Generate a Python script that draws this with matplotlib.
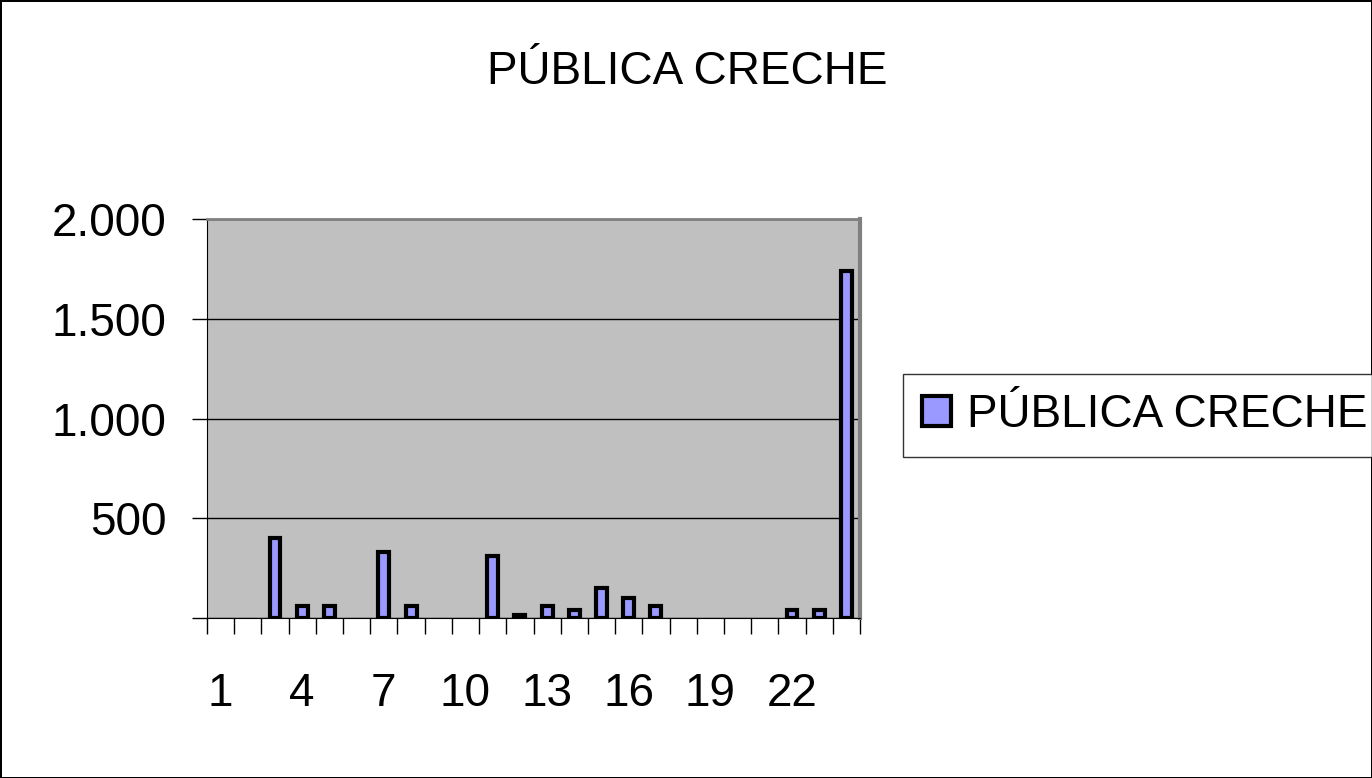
import matplotlib.pyplot as plt
import numpy as np

plt.rcParams['font.family'] = ['Liberation Sans', 'DejaVu Sans']

# dados
categorias = np.arange(1, 25)
valores = [0, 0, 400, 60, 60, 0, 330, 60, 0, 0, 310, 15,
           60, 40, 150, 100, 60, 0, 0, 0, 0, 40, 40, 1740]
rotulos_x = [1, 4, 7, 10, 13, 16, 19, 22]
ticks_y = [0, 500, 1000, 1500, 2000]
rotulos_y = ['', '500', '1.000', '1.500', '2.000']
titulo = 'PÚBLICA CRECHE'

fig = plt.figure(figsize=(13.72, 7.78), dpi=100)
fig.patch.set_edgecolor('black')
fig.patch.set_linewidth(2)

ax = fig.add_axes([207/1372, 1 - 618/778, (860 - 207)/1372, (618 - 219)/778])
ax.set_facecolor('#C0C0C0')

v = np.array(valores)
m = v > 0
barras = ax.bar(categorias[m], v[m], width=0.4, color='#9999FF',
                edgecolor='black', linewidth=3, zorder=3, label=titulo)

ax.set_xlim(0.5, 24.5)
ax.set_ylim(0, 2000)
ax.set_yticks(ticks_y)
ax.set_yticklabels(rotulos_y, fontsize=33)
ax.yaxis.grid(True, color='black', linewidth=1, zorder=1)

ax.set_xticks(np.arange(0.5, 25, 1))
ax.set_xticklabels([])
ax.tick_params(axis='x', which='major', length=11.5, width=1, color='black')
ax.set_xticks(rotulos_x, minor=True)
ax.set_xticklabels([str(r) for r in rotulos_x], minor=True, fontsize=33)
ax.tick_params(axis='x', which='minor', length=0, pad=39)
ax.tick_params(axis='y', length=11, width=1, pad=18)

ax.spines['left'].set_color('black')
ax.spines['bottom'].set_color('black')
ax.spines['top'].set_color('#808080')
ax.spines['right'].set_color('#808080')
ax.spines['top'].set_linewidth(2)
ax.spines['right'].set_linewidth(3)

fig.text(687/1372, 1 - 84/778, titulo, ha='center', va='baseline', fontsize=33)

leg = fig.legend(handles=[barras], labels=[titulo], loc='upper left',
                 bbox_to_anchor=(903/1372, 1 - 374/778), borderaxespad=0,
                 fontsize=33, frameon=True, fancybox=False, edgecolor='black',
                 handlelength=0.62, handleheight=0.62, handletextpad=0.35,
                 borderpad=0.42)
leg.get_frame().set_linewidth(1)

fig.savefig('out.png', dpi=100, edgecolor=fig.get_edgecolor())
